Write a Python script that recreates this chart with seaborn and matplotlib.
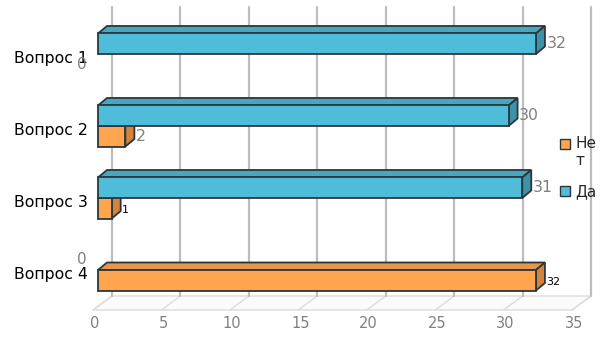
import numpy as np
import pandas as pd
import matplotlib
matplotlib.use("Agg")
import matplotlib.pyplot as plt
import matplotlib.transforms as mtransforms
import seaborn as sns
from matplotlib.patches import Polygon, Patch

# ---------------- data ----------------
categories = ["Вопрос 1", "Вопрос 2", "Вопрос 3", "Вопрос 4"]
series = ["Да", "Нет"]
da_values = [32, 30, 31, 0]
net_values = [0, 2, 1, 32]
x_ticks = [0, 5, 10, 15, 20, 25, 30, 35]
legend_series = ["Нет", "Да"]
legend_labels = ["Не\nт", "Да"]

sns.set_style("white")
plt.rcParams["font.family"] = ["DejaVu Sans"]

df = pd.DataFrame({
    "Вопрос": categories * 2,
    "Ответ": ["Да"] * len(categories) + ["Нет"] * len(categories),
    "Значение": da_values + net_values,
})

front = {"Да": "#4fbdd9", "Нет": "#ffa54f"}
topc = {"Да": "#49a6bf", "Нет": "#e8964b"}
sidec = {"Да": "#3d92a9", "Нет": "#d2843f"}
edge = "#2b363b"
gray_txt = "#808080"
grid_c = "#bdbdbd"

W, H = 605, 340
fig = plt.figure(figsize=(W / 100, H / 100), dpi=100)
ax = fig.add_axes([98 / W, (H - 306) / H, 479 / W, 288 / H])

sns.barplot(data=df, y="Вопрос", x="Значение", hue="Ответ", hue_order=series,
            order=categories, palette=front, orient="h", width=0.57, gap=0,
            edgecolor=edge, linewidth=1.3, legend=False, errorbar=None,
            saturation=1, ax=ax)
ax.set_xlim(0, 35)
ax.set_ylim(len(categories) - 0.5, -0.5)
for sp in ax.spines.values():
    sp.set_visible(False)
ax.set_xlabel("")
ax.set_ylabel("")
ax.set_xticks([])
ax.tick_params(axis="y", length=0, pad=7.5, labelsize=11.3, labelcolor="black")
ax.patch.set_alpha(0)
ylab_shift = mtransforms.ScaledTranslation(0, -3 / 100, fig.dpi_scale_trans)
for lab in ax.get_yticklabels():
    lab.set_transform(lab.get_transform() + ylab_shift)


def px(px_x, px_up):
    p0 = ax.transData.transform((0, 0))
    p1 = ax.transData.transform((1, 1))
    return px_x / (p1[0] - p0[0]), px_up / (p1[1] - p0[1])


ybot = len(categories) - 0.5
fx, fy = px(-5, -4)
bx, by = px(14, 10)
_, ytop = px(0, 11)
ytop = -0.5 + ytop
xmax = x_ticks[-1]
lx, _ = px(2, 0)

# floor
floor = Polygon([(0 + fx, ybot + fy), (xmax + fx, ybot + fy),
                 (xmax + bx, ybot + by), (0 + bx, ybot + by)],
                closed=True, facecolor="#fbfbfb", edgecolor="#dcdcdc",
                linewidth=1, clip_on=False, zorder=1)
ax.add_patch(floor)
for v in x_ticks:
    ax.plot([v + fx, v + bx], [ybot + fy, ybot + by], color="#dcdcdc",
            lw=1, clip_on=False, zorder=1.5)
    ax.plot([v + bx, v + bx], [ybot + by, ytop], color=grid_c, lw=1.6,
            clip_on=False, zorder=2)
    _, dly = px(0, -6)
    ax.text(v + fx + lx, ybot + fy + dly, str(v), ha="center", va="top",
            color=gray_txt, fontsize=10.5)

# 3D bars
dxd, dyd = px(9, 7.5)
small_black = {("Вопрос 3", "Нет"), ("Вопрос 4", "Нет")}
for j, s in enumerate(series):
    for i, bar in enumerate(ax.containers[j]):
        x0, w = bar.get_x(), bar.get_width()
        y0, h = bar.get_y(), bar.get_height()
        x1 = x0 + w
        yc = y0 + h / 2
        z = 10 + (len(categories) - 1 - i) * 2 + (1 if s == "Да" else 0)
        if w <= 0:
            bar.set_visible(False)
            ox, _ = px(-11, 0)
            ax.text(x0 + ox, yc, "0", ha="right", va="center",
                    color=gray_txt, fontsize=11, zorder=30)
            continue
        bar.set_zorder(z + 0.5)
        top = Polygon([(x0, y0), (x1, y0), (x1 + dxd, y0 + dyd), (x0 + dxd, y0 + dyd)],
                      closed=True, facecolor=topc[s], edgecolor=edge, lw=1.3,
                      clip_on=False, zorder=z)
        side = Polygon([(x1, y0), (x1, y0 + h), (x1 + dxd, y0 + h + dyd), (x1 + dxd, y0 + dyd)],
                       closed=True, facecolor=sidec[s], edgecolor=edge, lw=1.3,
                       clip_on=False, zorder=z)
        ax.add_patch(top)
        ax.add_patch(side)
        bar.set_clip_on(False)
        ox, _ = px(1.5, 0)
        if (categories[i], s) in small_black:
            _, oy = px(0, -1.5)
            ax.text(x1 + dxd + ox, yc + oy, f"{w:g}", ha="left", va="center",
                    color="black", fontsize=8, zorder=30)
        else:
            ax.text(x1 + dxd + ox, yc, f"{w:g}", ha="left", va="center",
                    color=gray_txt, fontsize=11.3, zorder=30)

handles = [Patch(facecolor=front[s], edgecolor=edge, linewidth=1) for s in legend_series]
leg = fig.legend(handles, legend_labels, loc="upper left",
                 bbox_to_anchor=(560 / W, 1 - 136 / H), frameon=False, fontsize=11,
                 handlelength=0.65, handleheight=0.65, handletextpad=0.35,
                 labelspacing=1.05, borderpad=0, borderaxespad=0)
# align the first (two-line) entry's square with its first text line
hnd = leg.legend_handles[0]
hnd.set_y(hnd.get_y() + 6.5)

fig.savefig("out.png", dpi=100)
